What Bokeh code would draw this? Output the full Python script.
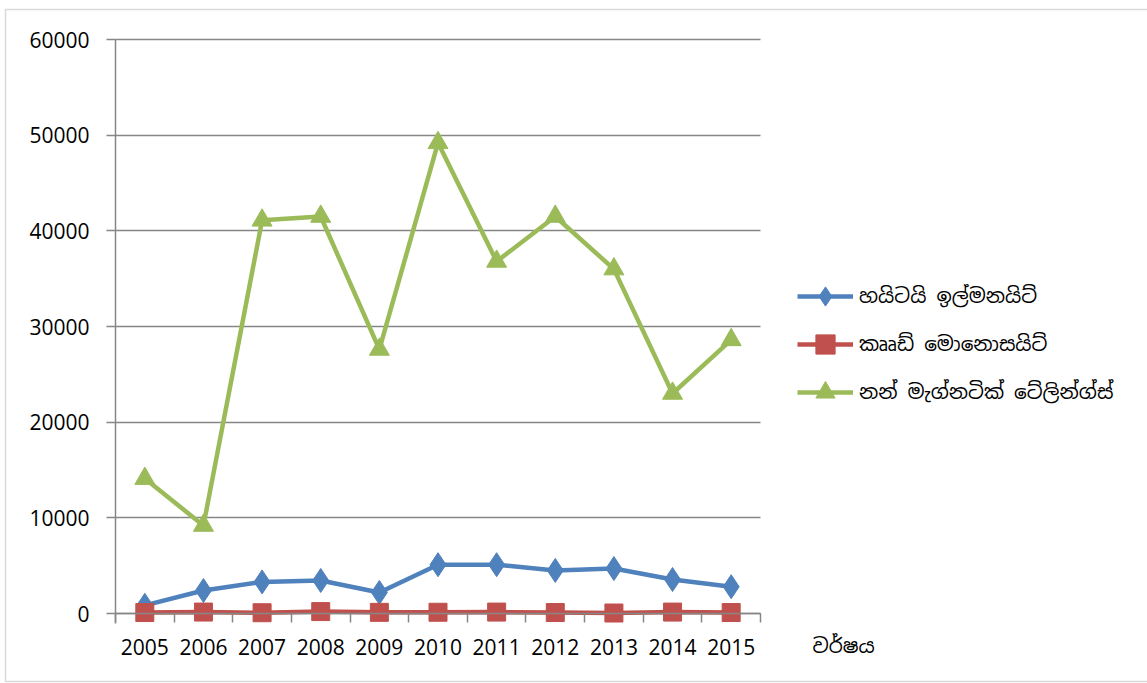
from bokeh.plotting import figure
from bokeh.models import (FixedTicker, Legend, LegendItem, Label, BoxAnnotation,
                          NumeralTickFormatter, Range1d, LinearAxis, Grid)
from bokeh.embed import file_html
from bokeh.resources import INLINE

years = [2005, 2006, 2007, 2008, 2009, 2010, 2011, 2012, 2013, 2014, 2015]
high_ti_ilmenite = [850, 2400, 3300, 3450, 2200, 5100, 5100, 4500, 4700, 3550, 2800]
crude_monazite = [100, 150, 80, 200, 120, 130, 150, 100, 50, 150, 100]
non_magnetic_tailings = [14100, 9200, 41100, 41500, 27600, 49200, 36800, 41500, 36000, 23000, 28600]

series_names = ["හයිටයි ඉල්මනයිට්", "කෲඩ් මොනොසයිට්", "නන් මැග්නටික් ටේලින්ග්ස්"]
x_title = "වර්ෂය"
y_ticks = [0, 10000, 20000, 30000, 40000, 50000, 60000]

W, H = 1147, 683
# plot area in canvas pixels
PX_LEFT, PX_RIGHT, PX_TOP, PX_ZERO = 115, 760, 39, 613
Y_MAX = 60000
x_lo, x_hi = years[0] - 0.5, years[-1] + 0.5
px_per_year = (PX_RIGHT - PX_LEFT) / (x_hi - x_lo)
val_per_px = Y_MAX / (PX_ZERO - PX_TOP)


def data_x(px):
    return x_lo + (px - PX_LEFT) / px_per_year


def data_y(py):
    return (PX_ZERO - py) * val_per_px


AXIS = "#868686"
NUM_FONT = "Open Sans"
SIN_FONT = "Noto Sans Sinhala, Noto Serif Sinhala, sans-serif"

p = figure(width=W, height=H, output_backend="svg", toolbar_location=None,
           x_range=Range1d(data_x(0), data_x(W)),
           y_range=Range1d(data_y(H), data_y(0)),
           x_axis_location=None, y_axis_location=None,
           min_border=0, min_border_left=0, min_border_right=0,
           min_border_top=0, min_border_bottom=0)
p.outline_line_color = None
p.background_fill_color = "white"
p.border_fill_color = "white"
p.xgrid.grid_line_color = None
p.ygrid.grid_line_color = None

# category-style x axis: labels at the centres, tick marks between years
xax = LinearAxis(fixed_location=0, bounds=(x_lo, x_hi),
                 ticker=FixedTicker(ticks=years,
                                    minor_ticks=[y - 0.5 for y in years] + [x_hi]))
xax.major_tick_line_color = None
xax.minor_tick_out = 9
xax.minor_tick_in = 0
xax.minor_tick_line_color = AXIS
xax.minor_tick_line_width = 1.5
xax.axis_line_color = AXIS
xax.axis_line_width = 1.5
xax.major_label_text_font = NUM_FONT
xax.major_label_text_font_size = "21px"
xax.major_label_text_color = "black"
xax.major_label_standoff = 16
p.add_layout(xax, "below")

yax = LinearAxis(fixed_location=x_lo, bounds=(data_y(623), Y_MAX),
                 ticker=FixedTicker(ticks=y_ticks),
                 formatter=NumeralTickFormatter(format="0"))
yax.major_tick_out = 9
yax.major_tick_in = 0
yax.major_tick_line_color = AXIS
yax.major_tick_line_width = 1.5
yax.minor_tick_line_color = None
yax.axis_line_color = AXIS
yax.axis_line_width = 1.5
yax.major_label_text_font = NUM_FONT
yax.major_label_text_font_size = "21px"
yax.major_label_text_color = "black"
yax.major_label_standoff = 17
p.add_layout(yax, "left")

grid = Grid(dimension=1, ticker=FixedTicker(ticks=y_ticks),
            cross_bounds=(x_lo, x_hi),
            grid_line_color=AXIS, grid_line_width=1.5)
p.add_layout(grid)

styles = [
    (high_ti_ilmenite, "#4F81BD", "diamond", 24),
    (crude_monazite, "#C0504D", "square", 18),
    (non_magnetic_tailings, "#9BBB59", "triangle", 20),
]

items = []
for (vals, color, marker, size), name in zip(styles, series_names):
    ln = p.line(years, vals, line_color=color, line_width=4.5)
    sc = p.scatter(years, vals, marker=marker, size=size,
                   fill_color=color, line_color=color)
    items.append(LegendItem(label=name, renderers=[ln, sc]))

# legend key markers scale with the key box height
row_h = 48
legend = Legend(items=items, location=(797, H - 392 - row_h // 2),
                glyph_width=56, glyph_height=row_h, label_height=row_h,
                spacing=0, padding=0, margin=0,
                label_standoff=6,
                label_text_font=SIN_FONT, label_text_font_size="20px",
                label_text_color="black",
                background_fill_alpha=0, border_line_color=None)
p.add_layout(legend)

p.add_layout(Label(x=data_x(812), y=data_y(645), text=x_title, text_font=SIN_FONT,
                   text_font_size="20px", text_color="black",
                   text_baseline="middle"))

# outer chart border
p.add_layout(BoxAnnotation(left=data_x(5), right=data_x(W + 10),
                           top=data_y(9), bottom=data_y(681),
                           fill_alpha=0, line_color=AXIS, line_width=1.5))

open("out.html", "w").write(file_html(p, INLINE))
